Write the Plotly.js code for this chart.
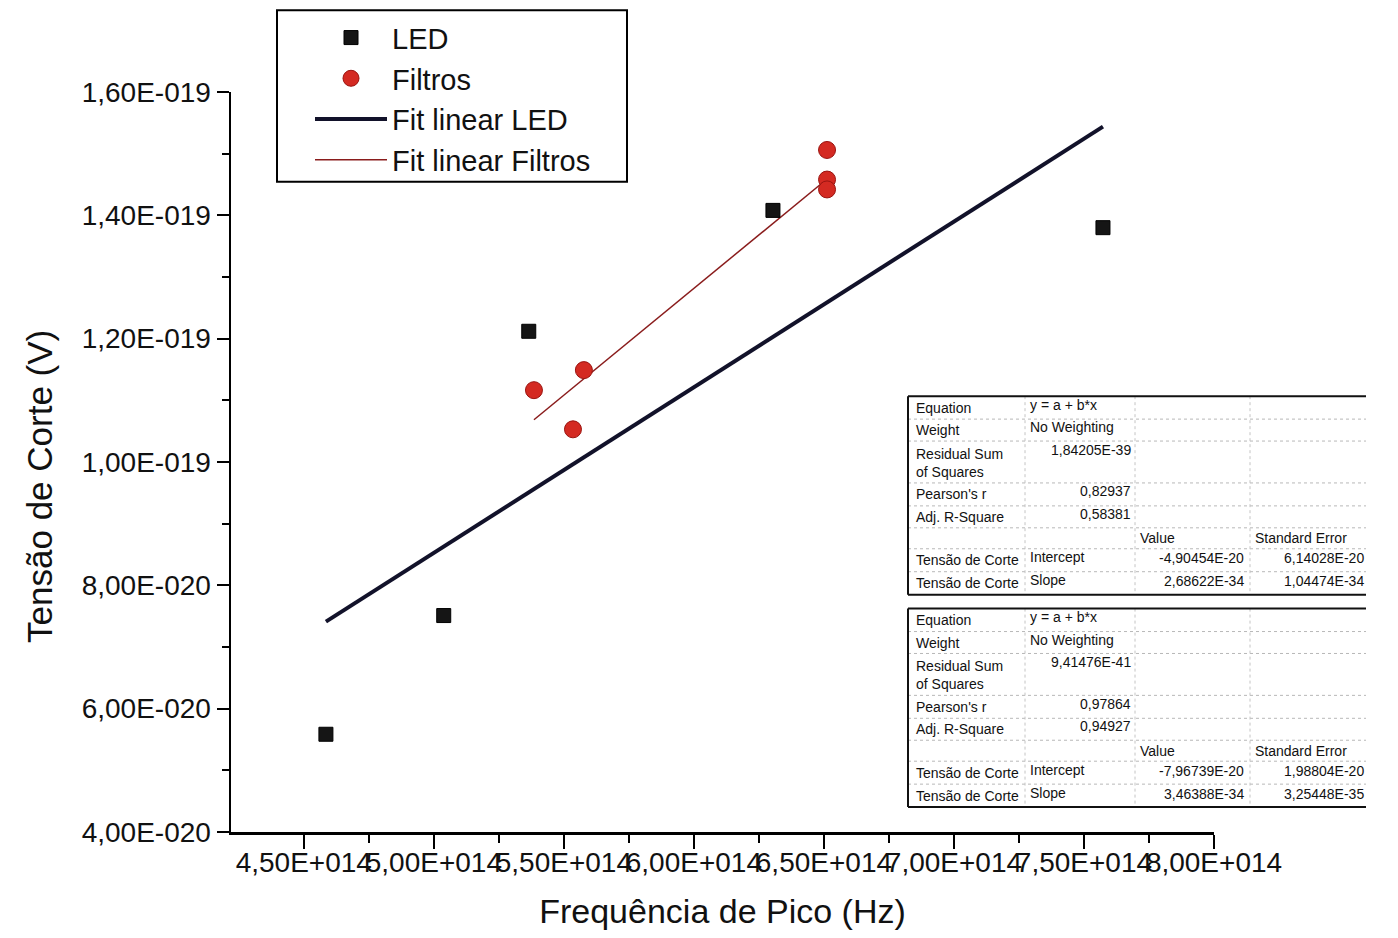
<!DOCTYPE html>
<html><head><meta charset="utf-8">
<script src="https://cdn.plot.ly/plotly-3.0.1.min.js"></script>
<style>html,body{margin:0;padding:0;background:#fff;} #chart{width:1398px;height:938px;}</style>
</head><body><div id="chart"></div>
<script>
// ---- data ----
const ledFreq = [4.585e14, 5.038e14, 5.365e14, 6.304e14, 7.573e14];
const ledVolt = [5.585e-20, 7.51e-20, 1.212e-19, 1.408e-19, 1.380e-19];
const filtFreq = [5.385e14, 5.535e14, 5.577e14, 6.512e14, 6.512e14, 6.512e14];
const filtVolt = [1.1165e-19, 1.053e-19, 1.149e-19, 1.506e-19, 1.458e-19, 1.442e-19];

// fit results (intercept, slope) and their standard errors
const ledFitParams = [-4.90454e-20, 2.68622e-34];
const ledFitErrors = [6.14028e-20, 1.04474e-34];
const ledFitStats = [1.84205e-39, 0.82937, 0.58381]; // residual SS, Pearson r, adj R^2
const filtFitParams = [-7.96739e-20, 3.46388e-34];
const filtFitErrors = [1.98804e-20, 3.25448e-35];
const filtFitStats = [9.41476e-41, 0.97864, 0.94927];

const xTickVals = [4.5e14, 5.0e14, 5.5e14, 6.0e14, 6.5e14, 7.0e14, 7.5e14, 8.0e14];
const xTickLabels = ['4,50E+014','5,00E+014','5,50E+014','6,00E+014','6,50E+014','7,00E+014','7,50E+014','8,00E+014'];
const xMinorVals = [4.75e14, 5.25e14, 5.75e14, 6.25e14, 6.75e14, 7.25e14, 7.75e14];
const yTickVals = [4e-20, 6e-20, 8e-20, 1.0e-19, 1.2e-19, 1.4e-19, 1.6e-19];
const yTickLabels = ['4,00E-020','6,00E-020','8,00E-020','1,00E-019','1,20E-019','1,40E-019','1,60E-019'];
const yMinorVals = [5e-20, 7e-20, 9e-20, 1.1e-19, 1.3e-19, 1.5e-19];

const xTitle = 'Frequência de Pico (Hz)';
const yTitle = 'Tensão de Corte (V)';
const rowLabels = ['Equation', 'Weight', 'Residual Sum<br>of Squares', "Pearson's r", 'Adj. R-Square'];
const equationText = ['y = a + b*x', 'No Weighting'];
const colHeaders = ['Value', 'Standard Error'];
const paramNames = ['Intercept', 'Slope'];
const depVarName = 'Tensão de Corte';

// ---- helpers ----
const FONT = 'Liberation Sans, Arial, sans-serif';
const L = 231, T = 90, W = 983, H = 742;
const px = x => (x - L) / W;
const py = y => (T + H - y) / H;
const fmtE = v => v.toExponential(5).replace('.', ',').replace('e', 'E');
const fmtF = v => v.toFixed(5).replace('.', ',');
const fitLine = (xs, p) => {
  const x0 = Math.min(...xs), x1 = Math.max(...xs);
  return {x: [x0, x1], y: [p[0] + p[1] * x0, p[0] + p[1] * x1]};
};
const ledLine = fitLine(ledFreq, ledFitParams);
const filtLine = fitLine(filtFreq, filtFitParams);

const traces = [
  {x: ledLine.x, y: ledLine.y, mode: 'lines', name: 'Fit linear LED', legendrank: 3,
   line: {color: '#12122a', width: 4}},
  {x: filtLine.x, y: filtLine.y, mode: 'lines', name: 'Fit linear Filtros', legendrank: 4,
   line: {color: '#8a1c1c', width: 1.5}},
  {x: ledFreq, y: ledVolt, mode: 'markers', name: 'LED', legendrank: 1,
   marker: {symbol: 'square', size: 14, color: '#151515', line: {color: '#000', width: 1}}},
  {x: filtFreq, y: filtVolt, mode: 'markers', name: 'Filtros', legendrank: 2,
   marker: {symbol: 'circle', size: 17, color: '#d42a22', line: {color: '#9a1410', width: 1}}}
];

// ---- fit tables (drawn as shapes + annotations) ----
const shapes = [], annotations = [];
const cols = [908, 1025, 1135, 1250, 1366];
const rowOffsets = [0, 23, 45, 87, 110, 132, 153, 176, 199];
function line(x0, y0, x1, y1, color, width, dash) {
  shapes.push({type: 'line', xref: 'paper', yref: 'paper', x0: px(x0), y0: py(y0), x1: px(x1), y1: py(y1),
               line: {color: color, width: width, dash: dash || 'solid'}});
}
function txt(x, y, s, anchor, va) {
  annotations.push({xref: 'paper', yref: 'paper', x: px(x), y: py(y), text: s, showarrow: false,
    xanchor: anchor, yanchor: va || 'middle', align: 'left',
    font: {family: FONT, size: 14, color: '#111'}});
}
function table(top, stats, params, errors) {
  const r = rowOffsets.map(o => top + o);
  for (let i = 1; i < r.length - 1; i++) line(cols[0], r[i], cols[4], r[i], '#b8b8b8', 1, 'dot');
  for (let j = 1; j < 4; j++) line(cols[j], r[0], cols[j], r[8], '#c4c4c4', 1, 'dot');
  line(cols[0], r[0], cols[4], r[0], '#111', 2);
  line(cols[0], r[8], cols[4], r[8], '#111', 2);
  line(cols[0], r[0], cols[0], r[8], '#111', 2);
  const mid = i => (r[i] + r[i + 1]) / 2;
  txt(914, mid(0), rowLabels[0], 'left');
  txt(914, mid(1), rowLabels[1], 'left');
  txt(914, r[2] + 3, rowLabels[2], 'left', 'top');
  txt(914, mid(3), rowLabels[3], 'left');
  txt(914, mid(4), rowLabels[4], 'left');
  txt(914, mid(6), depVarName, 'left');
  txt(914, mid(7), depVarName, 'left');
  txt(1028, mid(0) - 3, equationText[0], 'left');
  txt(1028, mid(1) - 3, equationText[1], 'left');
  txt(1133, r[2] + 9, fmtE(stats[0]), 'right');
  txt(1133, mid(3) - 3, fmtF(stats[1]), 'right');
  txt(1133, mid(4) - 3, fmtF(stats[2]), 'right');
  txt(1028, mid(6) - 3, paramNames[0], 'left');
  txt(1028, mid(7) - 3, paramNames[1], 'left');
  txt(1138, mid(5), colHeaders[0], 'left');
  txt(1253, mid(5), colHeaders[1], 'left');
  txt(1246, mid(6) - 2, fmtE(params[0]), 'right');
  txt(1246, mid(7) - 2, fmtE(params[1]), 'right');
  txt(1366, mid(6) - 2, fmtE(errors[0]), 'right');
  txt(1366, mid(7) - 2, fmtE(errors[1]), 'right');
}
table(395, ledFitStats, ledFitParams, ledFitErrors);
table(608, filtFitStats, filtFitParams, filtFitErrors);

// legend frame
shapes.push({type: 'rect', xref: 'paper', yref: 'paper', x0: px(277), y0: py(8), x1: px(627), y1: py(180),
             line: {color: '#000', width: 2}, fillcolor: 'rgba(0,0,0,0)'});

// y-axis title placed as in the reference (slightly below the plot centre)
annotations.push({xref: 'paper', yref: 'paper', x: px(40), y: py(486), text: yTitle, showarrow: false,
  textangle: -90, xanchor: 'center', yanchor: 'middle', font: {family: FONT, size: 35, color: '#111'}});

const axisCommon = {
  showline: true, linecolor: '#000', linewidth: 2.5, showgrid: false, zeroline: false,
  ticks: 'outside', tickwidth: 2, tickcolor: '#000', tickmode: 'array', tickangle: 0,
  tickfont: {family: FONT, size: 28, color: '#111'}
};
const layout = {
  width: 1398, height: 938,
  margin: {l: L, t: T, r: 1398 - L - W, b: 938 - T - H},
  paper_bgcolor: '#fff', plot_bgcolor: '#fff',
  font: {family: FONT, color: '#111'},
  xaxis: Object.assign({}, axisCommon, {
    range: [4.22e14, 8.0e14], tickvals: xTickVals, ticktext: xTickLabels, ticklen: 14,
    ticklabelstandoff: -10,
    minor: {tickmode: 'array', tickvals: xMinorVals, ticks: 'outside', ticklen: 8, tickwidth: 2, tickcolor: '#000'},
    title: {text: xTitle, font: {family: FONT, size: 34, color: '#111'}, standoff: 22}
  }),
  yaxis: Object.assign({}, axisCommon, {
    range: [4e-20, 1.6e-19], tickvals: yTickVals, ticktext: yTickLabels, ticklen: 12,
    minor: {tickmode: 'array', tickvals: yMinorVals, ticks: 'outside', ticklen: 7, tickwidth: 2, tickcolor: '#000'}
  }),
  legend: {
    x: px(310), y: py(10), xanchor: 'left', yanchor: 'top',
    bgcolor: 'rgba(0,0,0,0)', borderwidth: 0,
    font: {family: FONT, size: 29, color: '#111'}, itemwidth: 72, tracegroupgap: 0
  },
  showlegend: true,
  shapes: shapes,
  annotations: annotations
};
Plotly.newPlot('chart', traces, layout, {displayModeBar: false, staticPlot: true});
</script>
</body></html>
